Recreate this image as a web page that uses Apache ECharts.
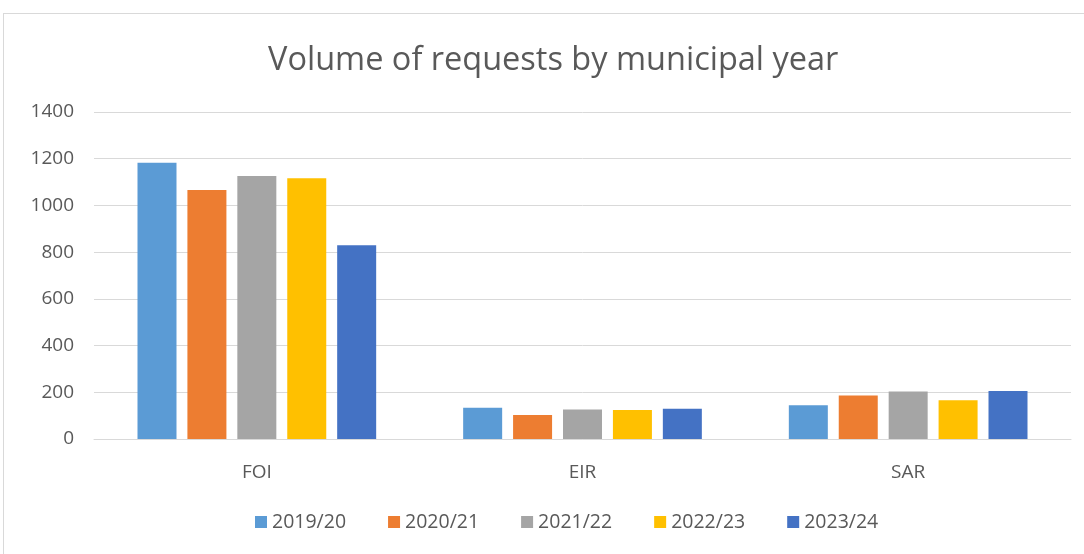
<!DOCTYPE html>
<html>
<head>
    <meta charset="UTF-8" />
    <title>Volume of requests by municipal year</title>
    <script src="https://cdn.jsdelivr.net/npm/echarts@6/dist/echarts.min.js"></script>
    <style>
        html, body { margin: 0; padding: 0; background: #fff; }
        #frame { position: absolute; left: 3px; top: 13px; width: 1090px; height: 550px; border: 1px solid #d9d9d9; box-sizing: border-box; }
        #chart { position: absolute; left: 0; top: 0; width: 1084px; height: 554px; }
    </style>
</head>
<body>
<div id="frame"></div>
<div id="chart"></div>
<script type="text/javascript">
    // categories and series
    var categories = ['FOI', 'EIR', 'SAR'];
    var years = ['2019/20', '2020/21', '2021/22', '2022/23', '2023/24'];
    var colors = ['#5b9bd5', '#ed7d31', '#a5a5a5', '#ffc000', '#4472c4'];
    var v2019 = [1183, 134, 144];
    var v2020 = [1066, 103, 186];
    var v2021 = [1126, 126, 203];
    var v2022 = [1116, 124, 166];
    var v2023 = [829, 130, 206];
    var seriesValues = [v2019, v2020, v2021, v2022, v2023];

    var series = [];
    for (var i = 0; i < years.length; i++) {
        series.push({
            name: years[i],
            type: 'bar',
            data: seriesValues[i],
            barWidth: 39,
            barGap: '28%',
            itemStyle: { color: colors[i] }
        });
    }

    var myChart = echarts.init(document.getElementById('chart'));
    var option = {
        animation: false,
        title: {
            text: 'Volume of requests by municipal year',
            left: 263,
            top: 39,
            textStyle: { color: '#595959', fontSize: 32.5, fontWeight: 'normal', fontFamily: 'Open Sans' }
        },
        legend: {
            data: years,
            bottom: 17,
            left: 250,
            itemWidth: 12,
            itemHeight: 12,
            itemGap: 42,
            icon: 'rect',
            textStyle: { color: '#595959', fontSize: 19.5, fontFamily: 'Open Sans' }
        },
        grid: { left: 94, right: 13, top: 112, bottom: 115, containLabel: false },
        xAxis: {
            type: 'category',
            data: categories,
            axisLine: { lineStyle: { color: '#d9d9d9', width: 1 } },
            axisTick: { show: false },
            axisLabel: { color: '#595959', fontSize: 19, margin: 24, fontFamily: 'Open Sans' }
        },
        yAxis: {
            type: 'value',
            min: 0,
            max: 1400,
            interval: 200,
            axisLine: { show: false },
            axisTick: { show: false },
            splitLine: { lineStyle: { color: '#d9d9d9', width: 1 } },
            axisLabel: {
                color: '#595959', fontSize: 19, margin: 20, fontFamily: 'Open Sans',
                formatter: function (v) { return String(v); }
            }
        },
        series: series
    };
    myChart.setOption(option);
</script>
</body>
</html>
